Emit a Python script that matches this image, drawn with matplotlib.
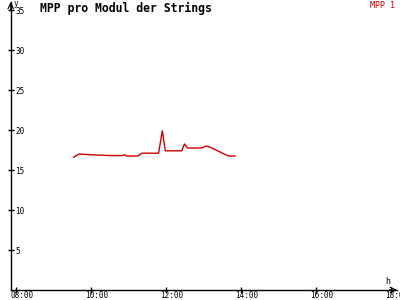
import matplotlib
matplotlib.use("Agg")
import matplotlib.pyplot as plt
from matplotlib.transforms import ScaledTranslation

zeit = [9.53, 9.68, 10.0, 10.53, 10.84, 10.89, 10.95, 11.24, 11.36, 11.8,
        11.9, 11.98, 12.42, 12.49, 12.57, 12.94, 13.08, 13.22, 13.66, 13.84]
mpp1 = [16.6, 17.0, 16.9, 16.8, 16.8, 16.9, 16.75, 16.75, 17.1, 17.1,
        19.9, 17.4, 17.4, 18.25, 17.75, 17.75, 18.0, 17.75, 16.75, 16.75]
x_ticks = [8, 10, 12, 14, 16, 18]
x_labels = ["08:00", "10:00", "12:00", "14:00", "16:00", "18:00"]
y_ticks = [5, 10, 15, 20, 25, 30, 35]

rot = "#cc0000"
mono = "DejaVu Sans Mono"

fig = plt.figure(figsize=(4, 3), dpi=100)
ax = fig.add_axes([10.7 / 400, 10 / 300, (397 - 10.7) / 400, 288 / 300])
ax.plot(zeit, mpp1, color=rot, lw=1.0)

ax.set_xlim(7.857, 7.857 + (397 - 10.7) / 37.5)
ax.set_ylim(0, 36)
ax.spines["top"].set_visible(False)
ax.spines["right"].set_visible(False)
for s in ("left", "bottom"):
    ax.spines[s].set_linewidth(1.0)

ax.set_xticks(x_ticks)
ax.set_xticklabels(x_labels, fontfamily=mono, fontsize=5.5)
ax.set_yticks(y_ticks)
ax.set_yticklabels([str(v) for v in y_ticks], fontfamily=mono, fontsize=5.5)
ax.tick_params(axis="x", direction="inout", length=5, width=1, pad=-1.5)
ax.tick_params(axis="y", direction="inout", length=5, width=1, pad=-6)
off = ScaledTranslation(-4 / 72, 0, fig.dpi_scale_trans)
for lab in ax.get_xticklabels():
    lab.set_ha("left")
    lab.set_transform(lab.get_transform() + off)
for lab in ax.get_yticklabels():
    lab.set_ha("left")

# Pfeile an den Achsenenden
ax.annotate("", xy=(1.0, 0), xytext=(0.98, 0), xycoords="axes fraction",
            arrowprops=dict(arrowstyle="->", lw=0.8, color="black",
                            shrinkA=0, shrinkB=0), annotation_clip=False)
ax.annotate("", xy=(0, 1.0), xytext=(0, 0.97), xycoords="axes fraction",
            arrowprops=dict(arrowstyle="->", lw=0.8, color="black",
                            shrinkA=0, shrinkB=0), annotation_clip=False)

fig.text(14 / 400, 1 - 4 / 300, "y", fontfamily=mono, fontsize=5.5, va="center")
fig.text(385 / 400, 1 - 282 / 300, "h", fontfamily=mono, fontsize=6, va="center")
fig.text(40 / 400, 1 - 8 / 300, "MPP pro Modul der Strings", fontfamily=mono,
         fontsize=8.3, fontweight="bold", va="center")
fig.text(395 / 400, 1 - 5 / 300, "MPP 1", fontfamily=mono, fontsize=6,
         color=rot, ha="right", va="center")

fig.savefig("out.png", dpi=100)
